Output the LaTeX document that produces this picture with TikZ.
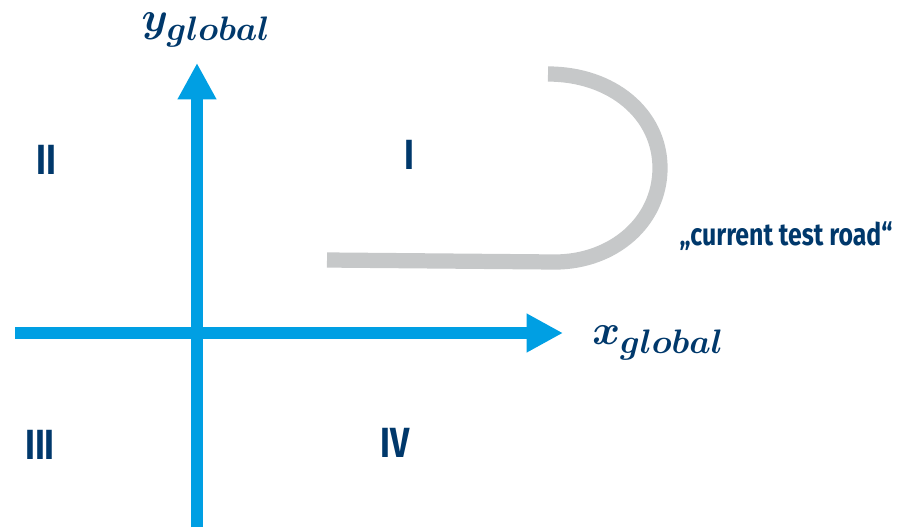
\RequirePackage{fix-cm}
\documentclass[tikz,border=0pt]{standalone}
\usepackage{fontspec}
\usepackage{amsmath}
\usepackage{tikz}
\usetikzlibrary{arrows.meta}

\newfontfamily\labelfont[FakeStretch=0.8]{Fira Sans}
\definecolor{axisblue}{HTML}{009FE3}
\definecolor{roadgray}{HTML}{C6C8C9}
\definecolor{navy}{HTML}{00386B}
\newcommand{\globalsub}{\mbox{\fontsize{29}{32}\selectfont\boldmath\(global\)}}

\begin{document}
\begin{tikzpicture}[x=0.03cm, y=-0.03cm,
    axis/.style={axisblue, line width=9.5pt, -{Triangle[length=31pt, width=31pt]}},
    road/.style={roadgray, line width=13pt},
    quadrant/.style={navy, font=\labelfont\bfseries\fontsize{36}{40}\selectfont},
    axislabel/.style={navy, inner sep=0pt, font=\fontsize{36}{40}\selectfont\boldmath}]
    \useasboundingbox (0,0) rectangle (900,527);
    % axes
    \coordinate (xstart) at (15,333);
    \coordinate (xtip) at (563,333);
    \coordinate (ystart) at (197,527);
    \coordinate (ytip) at (197,63);
    \draw[axis] (xstart) -- (xtip);
    \draw[axis] (ystart) -- (ytip);
    \node[axislabel] (xlab) at (658,343) {\(x_{\globalsub}\)};
    \node[axislabel] (ylab) at (206,30) {\(y_{\globalsub}\)};
    % quadrants
    \foreach \x/\y/\name in {409/155/I,46/160/II,40/445/III,395/443/IV} {
      \node[quadrant] (q\name) at (\x,\y) {\name};
    }
    % test road
    \coordinate (roadstart) at (327,260);
    \coordinate (roadbend) at (555,262);
    \coordinate (roadend) at (548,74);
    \draw[road] (roadstart) -- (roadbend)
      .. controls (613,262) and (660,222) .. (660,168)
      .. controls (660,114) and (612,74) .. (roadend);
    \node[navy, font=\labelfont\bfseries\fontsize{26.5}{30}\selectfont] (roadlab) at (786,236) {„current test road“};
\end{tikzpicture}
\end{document}
